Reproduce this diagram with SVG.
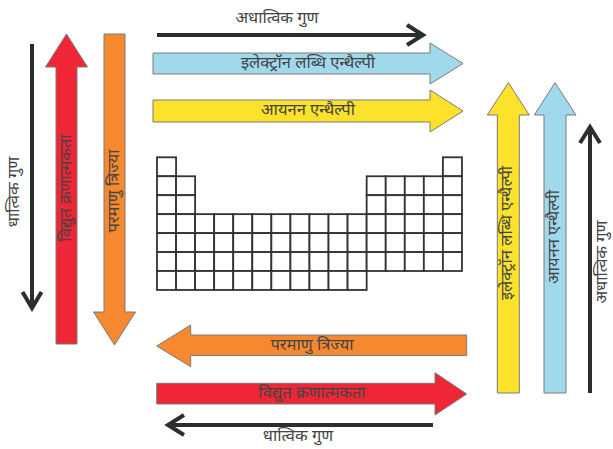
<svg xmlns="http://www.w3.org/2000/svg" xmlns:xlink="http://www.w3.org/1999/xlink" width="613" height="449" viewBox="0 0 613 449">
<style>
.t{font-family:"Noto Sans Devanagari","Noto Sans","Lohit Devanagari","FreeSans",sans-serif;font-size:16.5px;fill:#444;text-anchor:middle;dominant-baseline:central}
.big{stroke:#7a7a7a;stroke-width:1}
.blue{fill:#a1d9ec}.yellow{fill:#fde22b}.red{fill:#ee2636}.orange{fill:#f6892f}
.dk{fill:none;stroke:#2b2e2f;stroke-width:4;stroke-linejoin:miter}
.cell{fill:#fff;stroke:#333;stroke-width:1.8}
</style>
<defs><rect id="c" width="19.06" height="18.95" class="cell"/></defs>
<rect width="613" height="449" fill="#fff"/>
<g id="connectors">
<g id="top-nonmetal">
<path class="dk" d="M157,35H422M407,25L423,35L407,45"/>
<text class="t" x="277" y="19">अधात्विक गुण</text>
</g>
<g id="left-metal">
<path class="dk" d="M32,44V307M22.5,292L32,308L41.5,292"/>
<text class="t" transform="translate(15,192) rotate(-90)">धात्विक गुण</text>
</g>
<g id="right-nonmetal">
<path class="dk" d="M590,393V128M580,143L590,127L600,143"/>
<text class="t" transform="translate(602.5,262) rotate(-90)">अधात्विक गुण</text>
</g>
<g id="bottom-metal">
<path class="dk" d="M433,425H169M184,415L168,425L184,435"/>
<text class="t" x="298" y="437">धात्विक गुण</text>
</g>
</g>
<g id="h-electron-gain">
<polygon class="big blue" points="153,53 430,53 430,43 463,63.5 430,84 430,74 153,74"/>
<text class="t" x="308" y="63.5">इलेक्ट्रॉन लब्धि एन्थैल्पी</text>
</g>
<g id="h-ionization">
<polygon class="big yellow" points="153,100 430,100 430,90 463,111 430,132 430,122 153,122"/>
<text class="t" x="308" y="111">आयनन एन्थैल्पी</text>
</g>
<g id="v-electroneg">
<polygon class="big red" points="56,344 56,67 45.5,67 66.5,34 87.5,67 77,67 77,344"/>
<text class="t" transform="translate(66.5,188) rotate(-90)">विद्युत क्रणात्मकता</text>
</g>
<g id="v-radius">
<polygon class="big orange" points="104,34 125,34 125,312 135.5,312 114.5,345 93.5,312 104,312"/>
<text class="t" transform="translate(114.5,191) rotate(-90)">परमाणु त्रिज्या</text>
</g>
<g id="v-electron-gain">
<polygon class="big yellow" points="497.3,393 497.3,115 487.3,115 508.3,82.7 529.3,115 519.3,115 519.3,393"/>
<text class="t" transform="translate(508.3,233) rotate(-90)">इलेक्ट्रॉन लब्धि एन्थैल्पी</text>
</g>
<g id="v-ionization">
<polygon class="big blue" points="544,393 544,115 534.3,115 555,82.7 576,115 566,115 566,393"/>
<text class="t" transform="translate(555,237) rotate(-90)">आयनन एन्थैल्पी</text>
</g>
<g id="h-radius">
<polygon class="big orange" points="466.7,335 190.7,335 190.7,325 156.7,346 190.7,366.7 190.7,355.5 466.7,355.5"/>
<text class="t" x="312" y="345.5">परमाणु त्रिज्या</text>
</g>
<g id="h-electroneg">
<polygon class="big red" points="156.7,383.3 435,383.3 435,372.7 466.7,394 435,415 435,404 156.7,404"/>
<text class="t" x="312" y="393.5">विद्युत क्रणात्मकता</text>
</g>
<g id="periodic-table">
<use xlink:href="#c" x="157" y="157.3"/><use xlink:href="#c" x="442.9" y="157.3"/>
<use xlink:href="#c" x="157" y="176.25"/><use xlink:href="#c" x="176.06" y="176.25"/><use xlink:href="#c" x="366.66" y="176.25"/><use xlink:href="#c" x="385.72" y="176.25"/><use xlink:href="#c" x="404.78" y="176.25"/><use xlink:href="#c" x="423.84" y="176.25"/><use xlink:href="#c" x="442.9" y="176.25"/>
<use xlink:href="#c" x="157" y="195.2"/><use xlink:href="#c" x="176.06" y="195.2"/><use xlink:href="#c" x="366.66" y="195.2"/><use xlink:href="#c" x="385.72" y="195.2"/><use xlink:href="#c" x="404.78" y="195.2"/><use xlink:href="#c" x="423.84" y="195.2"/><use xlink:href="#c" x="442.9" y="195.2"/>
<use xlink:href="#c" x="157" y="214.15"/><use xlink:href="#c" x="176.06" y="214.15"/><use xlink:href="#c" x="195.12" y="214.15"/><use xlink:href="#c" x="214.18" y="214.15"/><use xlink:href="#c" x="233.24" y="214.15"/><use xlink:href="#c" x="252.3" y="214.15"/><use xlink:href="#c" x="271.36" y="214.15"/><use xlink:href="#c" x="290.42" y="214.15"/><use xlink:href="#c" x="309.48" y="214.15"/><use xlink:href="#c" x="328.54" y="214.15"/><use xlink:href="#c" x="347.6" y="214.15"/><use xlink:href="#c" x="366.66" y="214.15"/><use xlink:href="#c" x="385.72" y="214.15"/><use xlink:href="#c" x="404.78" y="214.15"/><use xlink:href="#c" x="423.84" y="214.15"/><use xlink:href="#c" x="442.9" y="214.15"/>
<use xlink:href="#c" x="157" y="233.1"/><use xlink:href="#c" x="176.06" y="233.1"/><use xlink:href="#c" x="195.12" y="233.1"/><use xlink:href="#c" x="214.18" y="233.1"/><use xlink:href="#c" x="233.24" y="233.1"/><use xlink:href="#c" x="252.3" y="233.1"/><use xlink:href="#c" x="271.36" y="233.1"/><use xlink:href="#c" x="290.42" y="233.1"/><use xlink:href="#c" x="309.48" y="233.1"/><use xlink:href="#c" x="328.54" y="233.1"/><use xlink:href="#c" x="347.6" y="233.1"/><use xlink:href="#c" x="366.66" y="233.1"/><use xlink:href="#c" x="385.72" y="233.1"/><use xlink:href="#c" x="404.78" y="233.1"/><use xlink:href="#c" x="423.84" y="233.1"/><use xlink:href="#c" x="442.9" y="233.1"/>
<use xlink:href="#c" x="157" y="252.05"/><use xlink:href="#c" x="176.06" y="252.05"/><use xlink:href="#c" x="195.12" y="252.05"/><use xlink:href="#c" x="214.18" y="252.05"/><use xlink:href="#c" x="233.24" y="252.05"/><use xlink:href="#c" x="252.3" y="252.05"/><use xlink:href="#c" x="271.36" y="252.05"/><use xlink:href="#c" x="290.42" y="252.05"/><use xlink:href="#c" x="309.48" y="252.05"/><use xlink:href="#c" x="328.54" y="252.05"/><use xlink:href="#c" x="347.6" y="252.05"/><use xlink:href="#c" x="366.66" y="252.05"/><use xlink:href="#c" x="385.72" y="252.05"/><use xlink:href="#c" x="404.78" y="252.05"/><use xlink:href="#c" x="423.84" y="252.05"/><use xlink:href="#c" x="442.9" y="252.05"/>
<use xlink:href="#c" x="157" y="271"/><use xlink:href="#c" x="176.06" y="271"/><use xlink:href="#c" x="195.12" y="271"/><use xlink:href="#c" x="214.18" y="271"/><use xlink:href="#c" x="233.24" y="271"/><use xlink:href="#c" x="252.3" y="271"/><use xlink:href="#c" x="271.36" y="271"/><use xlink:href="#c" x="290.42" y="271"/><use xlink:href="#c" x="309.48" y="271"/><use xlink:href="#c" x="328.54" y="271"/><use xlink:href="#c" x="347.6" y="271"/>
</g>
</svg>
